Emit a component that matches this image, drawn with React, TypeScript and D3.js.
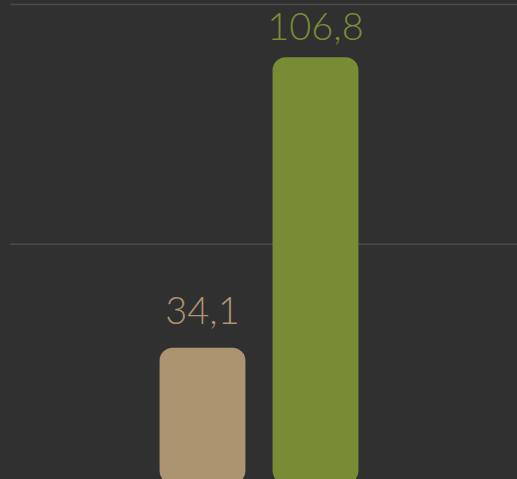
import React, { useEffect, useRef } from 'react';
import * as d3 from 'd3';

const categories = ['A', 'B'];
const values = [34.1, 106.8];
const labels = ['34,1', '106,8'];
const colors = ['#ab946f', '#788c36'];
const gridTicks = [60, 120];

const App: React.FC = () => {
  const svgRef = useRef<SVGSVGElement>(null);

  useEffect(() => {
    if (!svgRef.current) return;
    const width = 517;
    const height = 479;

    const svg = d3.select(svgRef.current);
    svg.selectAll('*').remove();
    svg.attr('width', width).attr('height', height);

    svg.append('rect')
      .attr('width', width)
      .attr('height', height)
      .attr('fill', '#303030');

    const x = d3.scaleBand<string>()
      .domain(categories)
      .range([146, 372])
      .paddingInner(0.24)
      .paddingOuter(0.12);

    const y = d3.scaleLinear()
      .domain([0, 120])
      .range([484, 4.5]);

    svg.append('g')
      .selectAll('line')
      .data(gridTicks)
      .enter().append('line')
      .attr('x1', 10)
      .attr('x2', width)
      .attr('y1', d => y(d))
      .attr('y2', d => y(d))
      .attr('stroke', '#4a4a4a')
      .attr('stroke-width', 1.5);

    svg.append('g')
      .selectAll('rect')
      .data(values)
      .enter().append('rect')
      .attr('x', (_, i) => x(categories[i]) as number)
      .attr('y', d => y(d))
      .attr('width', x.bandwidth())
      .attr('height', d => y(0) - y(d))
      .attr('rx', 13)
      .attr('fill', (_, i) => colors[i]);

    svg.append('g')
      .selectAll('text')
      .data(values)
      .enter().append('text')
      .attr('x', (_, i) => (x(categories[i]) as number) + x.bandwidth() / 2)
      .attr('y', d => Math.max(y(d) - 24, 40))
      .attr('text-anchor', 'middle')
      .attr('font-family', 'Lato, sans-serif')
      .attr('font-weight', 300)
      .attr('font-size', 38)
      .attr('fill', (_, i) => colors[i])
      .text((_, i) => labels[i]);
  }, []);

  return (
    <div style={{ position: 'fixed', left: 0, top: 0, width: 517, height: 479, overflow: 'hidden' }}>
      <svg ref={svgRef} style={{ display: 'block' }} />
    </div>
  );
};

export default App;
